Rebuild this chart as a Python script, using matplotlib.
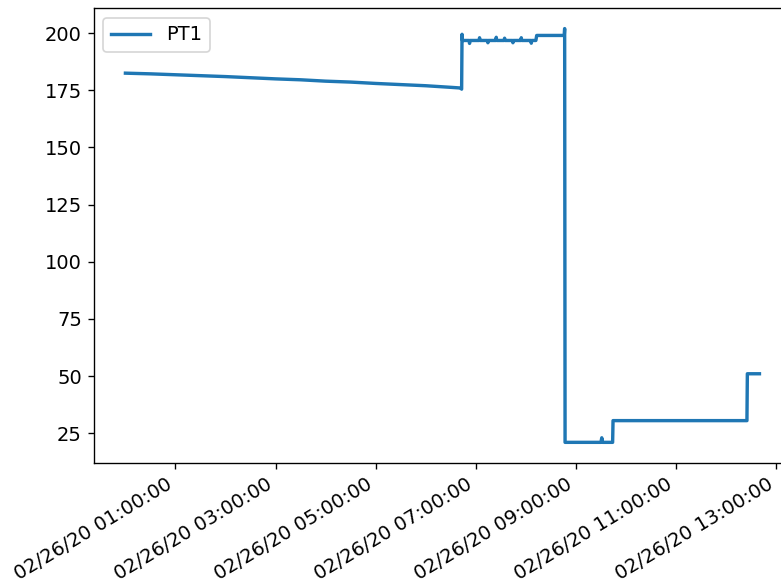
import pandas as pd
import matplotlib
matplotlib.use('Agg')
import matplotlib.pyplot as plt
import matplotlib.dates as mdates

plt.rcParams['font.size'] = 11.5

# PT1 readings on 02/26/20 (time, value)
times = ['00:00', '00:30', '01:00', '01:30', '02:00', '02:30', '03:00', '03:30',
         '04:00', '04:30', '05:00', '05:30', '06:00', '06:30', '06:42', '06:43',
         '06:43:30', '06:44',
         '06:52', '06:52:30', '06:53', '07:04', '07:04:30', '07:05',
         '07:14', '07:14:30', '07:15', '07:24', '07:24:30', '07:25',
         '07:34', '07:34:30', '07:35', '07:44', '07:44:30', '07:45',
         '07:54', '07:54:30', '07:55', '08:06', '08:06:30', '08:07',
         '08:12', '08:13', '08:46', '08:46:30', '08:47',
         '09:30', '09:31', '09:32', '09:44', '09:44:30', '12:25', '12:25:30', '12:40']
pt1 = [182.5, 182.2, 181.8, 181.4, 181.0, 180.5, 180.0, 179.6,
       179.0, 178.6, 178.0, 177.5, 177.0, 176.3, 176.0, 175.5,
       199.5, 196.8,
       196.8, 195.5, 196.8, 196.8, 198.0, 196.8,
       196.8, 195.8, 196.8, 196.8, 198.2, 196.8,
       196.8, 197.8, 196.8, 196.8, 195.8, 196.8,
       196.8, 198.0, 196.8, 196.8, 195.6, 196.8,
       196.8, 199.0, 199.0, 202.0, 21.0,
       21.0, 23.0, 21.0, 21.0, 30.5, 30.5, 51.0, 51.0]

x = pd.to_datetime(['2020-02-26 ' + (t if t.count(':') == 2 else t + ':00') for t in times])

fig = plt.figure(figsize=(781 / 122, 585 / 122), dpi=122)
ax = fig.add_axes([0.120, 0.2085, 0.893, 0.778])
ax.plot(x, pt1, label='PT1', color='#1f77b4', linewidth=2)

ax.xaxis.set_major_locator(mdates.HourLocator(byhour=range(1, 24, 2)))
ax.xaxis.set_major_formatter(mdates.DateFormatter('%m/%d/%y %H:%M:%S'))
plt.setp(ax.get_xticklabels(), rotation=31, ha='right')
ax.set_yticks([25, 50, 75, 100, 125, 150, 175, 200])
ax.legend(loc='upper left')

plt.savefig('out.png', dpi=122)
